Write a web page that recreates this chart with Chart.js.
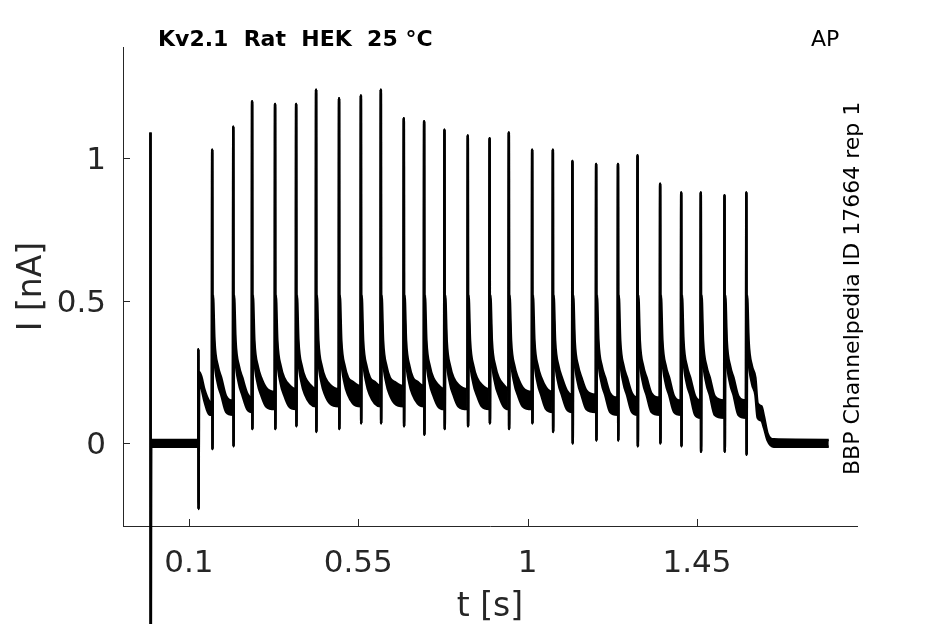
<!DOCTYPE html>
<html>
<head>
<meta charset="utf-8">
<title>Kv2.1 Rat HEK 25 °C - AP</title>
<script src="https://cdn.jsdelivr.net/npm/chart.js@4.4.1/dist/chart.umd.min.js"></script>
<style>
  html, body { margin: 0; padding: 0; background: #fff; }
  #wrap { width: 945px; height: 624px; }
</style>
</head>
<body>
<div id="wrap"><canvas id="chart"></canvas></div>
<script>
// values: time in s, current in nA
var xTicks = [0.1, 0.55, 1, 1.45];
var yTicks = [0, 0.5, 1];

// capacitive transient at t = 0 and holding baseline
var onsetTimes = [-0.002, -0.0014, -0.0005, 0.125];
var onsetHigh = [1.09, -0.95, 0.012, 0.012];
var onsetLow = [1.09, -0.95, -0.012, -0.012];

// step into the AP train
var stepTimes = [0.1252, 0.1258, 0.127, 0.133, 0.141, 0.155];
var stepHigh = [0.33, -0.23, 0.25, 0.235, 0.19, 0.145];
var stepLow = [0.33, -0.23, 0.21, 0.195, 0.15, 0.10];

// one entry per AP
var spikeTimes = [0.162, 0.218, 0.268, 0.329, 0.385, 0.438, 0.499, 0.557, 0.610, 0.671, 0.725, 0.779, 0.841,
                  0.899, 0.950, 1.012, 1.067, 1.119, 1.182, 1.240, 1.292, 1.352, 1.408, 1.460, 1.523, 1.581];
var spikePeaks = [1.03, 1.11, 1.20, 1.19, 1.19, 1.24, 1.21, 1.22, 1.24, 1.14, 1.13, 1.10, 1.08,
                  1.07, 1.09, 1.03, 1.03, 0.99, 0.98, 0.98, 1.01, 0.91, 0.88, 0.88, 0.87, 0.88];
var spikeDips = [-0.02, -0.01, 0.05, 0.05, 0.06, 0.04, 0.05, 0.07, 0.07, 0.06, 0.03, 0.05, 0.06,
                 0.07, 0.05, 0.07, 0.04, 0.00, 0.01, 0.01, -0.01, 0.00, -0.01, -0.03, -0.03, -0.04];
// level of the sweeps just before each AP (upper / lower edge of the band)
var troughHigh = [0.14, 0.15, 0.16, 0.18, 0.19, 0.19, 0.19, 0.20, 0.20, 0.20, 0.20, 0.19, 0.19,
                  0.19, 0.19, 0.18, 0.18, 0.17, 0.17, 0.16, 0.16, 0.16, 0.15, 0.15, 0.15, 0.15];
var troughLow = [0.10, 0.10, 0.11, 0.12, 0.12, 0.13, 0.13, 0.13, 0.13, 0.13, 0.13, 0.12, 0.12,
                 0.12, 0.12, 0.12, 0.11, 0.11, 0.11, 0.10, 0.10, 0.10, 0.10, 0.09, 0.09, 0.09];
// level of the sweeps ~37 ms after each AP
var settleHigh = [0.165, 0.175, 0.195, 0.205, 0.205, 0.205, 0.215, 0.215, 0.215, 0.215, 0.205, 0.205, 0.205,
                  0.205, 0.195, 0.195, 0.185, 0.185, 0.175, 0.175, 0.175, 0.165, 0.165, 0.165, 0.165, 0.165];
var settleLow = [0.11, 0.12, 0.13, 0.13, 0.14, 0.14, 0.14, 0.14, 0.14, 0.14, 0.13, 0.13, 0.13,
                 0.13, 0.13, 0.12, 0.12, 0.12, 0.11, 0.11, 0.11, 0.11, 0.10, 0.10, 0.10, 0.10];

// early tail current after an AP, sampled at these delays (s)
var decayDelays = [0.002, 0.006, 0.015, 0.024];
var decayHigh = [0.52, 0.36, 0.27, 0.23];
var decayLow = [0.44, 0.30, 0.21, 0.17];
var preSpike = 0.001, dipDelay = 0.0008, settleDelay = 0.037;

// end of the train, back to baseline
var offTimes = [1.611, 1.621, 1.628, 1.637, 1.654, 1.8];
var offHigh = [0.14, 0.13, 0.093, 0.036, 0.014, 0.012];
var offLow = [0.09, 0.08, 0.054, 0.012, -0.012, -0.012];

function buildSweep(onset, step, trough, decay, settle, off) {
  var pts = [];
  onsetTimes.forEach(function (t, i) { pts.push({ x: t, y: onset[i] }); });
  stepTimes.forEach(function (t, i) { pts.push({ x: t, y: step[i] }); });
  spikeTimes.forEach(function (t, k) {
    pts.push({ x: t - preSpike, y: trough[k] });
    pts.push({ x: t, y: spikePeaks[k] });
    pts.push({ x: t + dipDelay, y: spikeDips[k] });
    decayDelays.forEach(function (d, j) { pts.push({ x: t + d, y: decay[j] }); });
    if (k + 1 < spikeTimes.length) pts.push({ x: t + settleDelay, y: settle[k] });
  });
  offTimes.forEach(function (t, i) { pts.push({ x: t, y: off[i] }); });
  return pts;
}

var axisColor = '#262626';
var fontFamily = '"DejaVu Sans", sans-serif';

// inward tick marks plus the annotation texts
var decorations = {
  id: 'decorations',
  afterDraw: function (chart) {
    var ctx = chart.ctx, area = chart.chartArea;
    var xs = chart.scales.x, ys = chart.scales.y;
    ctx.save();
    ctx.strokeStyle = axisColor;
    ctx.lineWidth = 1;
    ctx.beginPath();
    xTicks.forEach(function (v) {
      var px = Math.round(xs.getPixelForValue(v)) + 0.5;
      ctx.moveTo(px, area.bottom);
      ctx.lineTo(px, area.bottom - 7);
    });
    yTicks.forEach(function (v) {
      var py = Math.round(ys.getPixelForValue(v)) + 0.5;
      ctx.moveTo(area.left, py);
      ctx.lineTo(area.left + 7, py);
    });
    ctx.stroke();

    ctx.fillStyle = '#000';
    ctx.textBaseline = 'alphabetic';
    ctx.textAlign = 'left';
    ctx.font = 'bold 22px ' + fontFamily;
    ctx.fillText('Kv2.1  Rat  HEK  25 °C', 158, 46);
    ctx.font = '22px ' + fontFamily;
    ctx.fillText('AP', 811, 46);
    ctx.translate(859, 475);
    ctx.rotate(-Math.PI / 2);
    ctx.fillText('BBP Channelpedia ID 17664 rep 1', 0, 0);
    ctx.restore();
  }
};

var sweepStyle = {
  borderColor: '#000',
  backgroundColor: '#000',
  borderWidth: 2.5,
  pointRadius: 0,
  cubicInterpolationMode: 'monotone',
  clip: false
};

new Chart(document.getElementById('chart'), {
  type: 'line',
  data: {
    datasets: [
      Object.assign({ data: buildSweep(onsetHigh, stepHigh, troughHigh, decayHigh, settleHigh, offHigh), fill: '+1' }, sweepStyle),
      Object.assign({ data: buildSweep(onsetLow, stepLow, troughLow, decayLow, settleLow, offLow), fill: false }, sweepStyle)
    ]
  },
  options: {
    responsive: true,
    maintainAspectRatio: false,
    animation: false,
    layout: { padding: { top: 47, right: 88, left: 0, bottom: 0 } },
    plugins: { legend: { display: false }, tooltip: { enabled: false } },
    scales: {
      x: {
        type: 'linear',
        min: -0.075,
        max: 1.875,
        afterBuildTicks: function (s) { s.ticks = xTicks.map(function (v) { return { value: v }; }); },
        afterFit: function (s) { s.height = 98; },
        grid: { display: false, drawTicks: false },
        border: { display: true, color: axisColor, width: 1 },
        ticks: {
          autoSkip: false, maxRotation: 0, padding: 19, color: axisColor,
          font: { family: fontFamily, size: 31 },
          callback: function (v) { return String(v); }
        },
        title: { display: true, text: 't [s]', color: axisColor, padding: { top: 0, bottom: -3 }, font: { family: fontFamily, size: 33 } }
      },
      y: {
        min: -0.29,
        max: 1.39,
        afterBuildTicks: function (s) { s.ticks = yTicks.map(function (v) { return { value: v }; }); },
        afterFit: function (s) { s.width = 123; },
        grid: { display: false, drawTicks: false },
        border: { display: true, color: axisColor, width: 1 },
        ticks: {
          padding: 17, labelOffset: 3, color: axisColor,
          font: { family: fontFamily, size: 31 },
          callback: function (v) { return String(v); }
        },
        title: { display: true, text: 'I [nA]', color: axisColor, padding: { top: 13, bottom: 0 }, font: { family: fontFamily, size: 33 } }
      }
    }
  },
  plugins: [decorations]
});
</script>
</body>
</html>
